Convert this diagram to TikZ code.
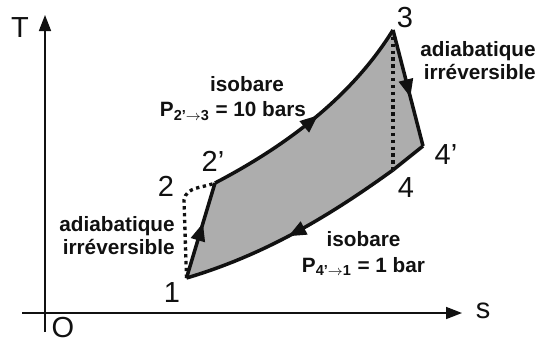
\documentclass[tikz,border=0pt]{standalone}
\usepackage{fontspec}
\setmainfont{Liberation Sans}
\usepackage{tikz}
\usetikzlibrary{arrows.meta, decorations.markings}
\definecolor{Ink}{HTML}{111111}
\definecolor{Shade}{HTML}{ADADAD}

\begin{document}
\begin{tikzpicture}[
  axis/.style={-{Triangle[length=3.2mm, width=2.4mm]}, line width=0.9pt, draw=Ink},
  cyc/.style={line width=2pt, draw=Ink, line join=round},
  dotline/.style={line width=1.9pt, draw=Ink, dash pattern=on 1.9pt off 2.0pt},
  midarrow/.style={postaction={decorate}, decoration={markings,
    mark=at position #1 with {\arrow{Triangle[length=3.6mm, width=2.8mm]}}}},
  num/.style={font=\fontsize{16.5}{18}\selectfont, text=Ink, inner sep=0pt},
  label/.style={font=\fontsize{11.8}{13}\selectfont\bfseries, text=Ink, inner sep=0pt}
]
\useasboundingbox (0,0) rectangle (10.78,6.86);

% axes
\coordinate (xl) at (0.44,0.60);
\coordinate (xr) at (9.24,0.60);
\coordinate (yb) at (0.90,0.22);
\coordinate (yt) at (0.90,6.56);
\draw[axis] (xl) -- (xr);
\draw[axis] (yb) -- (yt);
\node[num] (T) at (0.40,6.30) {T};
\node[num] (S) at (9.66,0.64) {s};
\node[num] (O) at (1.26,0.31) {O};

% cycle points
\coordinate (p1) at (3.73,1.30);
\coordinate (p2) at (3.68,2.86);
\coordinate (p2b) at (4.30,3.20);
\coordinate (p3) at (7.86,6.26);
\coordinate (p4b) at (8.46,3.94);
\coordinate (p4) at (7.86,3.46);

\fill[Shade] (p1) -- (p2b) .. controls (5.68,3.92) and (7.02,4.90) .. (p3) -- (p4b) -- (p4)
  .. controls (6.56,2.52) and (5.28,1.76) .. (p1) -- cycle;

\draw[dotline] (p1) -- (p2) to[out=80,in=202] (p2b);
\draw[dotline] (p3) -- (p4);

\draw[cyc, midarrow=0.58] (p1) -- (p2b);
\draw[cyc, midarrow=0.52] (p2b) .. controls (5.68,3.92) and (7.02,4.90) .. (p3);
\draw[cyc, midarrow=0.58] (p3) -- (p4b);
\draw[cyc] (p4b) -- (p4);
\draw[cyc, midarrow=0.53] (p4) .. controls (6.56,2.52) and (5.28,1.76) .. (p1);

\node[num] (n1) at (3.44,1.00) {1};
\node[num] (n2) at (3.32,3.14) {2};
\node[num] (n2b) at (4.26,3.64) {2'};
\node[num] (n3) at (8.10,6.50) {3};
\node[num] (n4b) at (8.92,3.76) {4'};
\node[num] (n4) at (8.12,3.10) {4};

\node[label] (topa) at (4.94,5.18) {isobare};
\node[label] (topb) at (4.66,4.64) {P\textsubscript{2'$\rightarrow$3} = 10 bars};
\node[label, align=right, anchor=east] (rgt) at (10.72,5.64) {adiabatique\\irréversible};
\node[label, align=right, anchor=east] (lft) at (3.50,2.14) {adiabatique\\irréversible};
\node[label, align=center] (bot) at (7.27,1.79) {isobare\\[2pt]P\textsubscript{4'$\rightarrow$1} = 1 bar};
\end{tikzpicture}
\end{document}
